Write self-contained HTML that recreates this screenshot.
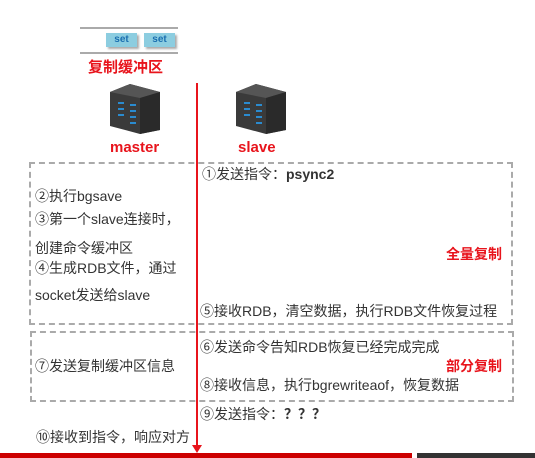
<!DOCTYPE html>
<html><head><meta charset="utf-8"><style>
body{margin:0;width:535px;height:458px;background:#fff;position:relative;overflow:hidden;font-family:"Liberation Sans","Noto Sans CJK SC",sans-serif;color:#333}
.t{position:absolute;font-size:14px;white-space:nowrap;line-height:16px}
.r{color:#e8141c;font-weight:bold}
.box{position:absolute;border:2px dashed #aaa}
.set{position:absolute;top:33px;width:31px;height:14px;background:#8ccde0;color:#1a6fb0;font-size:10px;font-weight:bold;text-align:center;line-height:14px;box-shadow:2px 2px 2px #aaa}
</style></head><body>
<div style="position:absolute;left:80px;top:27px;width:98px;height:2px;background:#aaa"></div>
<div style="position:absolute;left:80px;top:52px;width:98px;height:2px;background:#aaa"></div>
<div class="set" style="left:106px">set</div>
<div class="set" style="left:144px">set</div>
<div class="t r" style="left:88px;top:60px;font-size:15px">复制缓冲区</div>
<svg width="535" height="458" style="position:absolute;left:0;top:0">
<g id="srv">
<polygon points="110,92 130,84 160,92 160,130 140,134 110,126" fill="#3a3a3a"/>
<polygon points="110,92 130,84 160,92 140,98" fill="#555"/>
<polygon points="140,98 160,92 160,130 140,134" fill="#2a2a2a"/>
<g fill="#2a8bd0"><rect x="118" y="102" width="6" height="2"/><rect x="118" y="108" width="6" height="2"/><rect x="118" y="114" width="6" height="2"/><rect x="130" y="104" width="6" height="2"/><rect x="130" y="110" width="6" height="2"/><rect x="130" y="116" width="6" height="2"/><rect x="130" y="122" width="6" height="2"/></g>
</g>
<use href="#srv" x="126"/>
<line x1="197" y1="83" x2="197" y2="446" stroke="#e8141c" stroke-width="2"/>
<polygon points="192,445 202,445 197,453" fill="#e8141c"/>
</svg>
<div class="t r" style="left:110px;top:140px;font-size:15px">master</div>
<div class="t r" style="left:238px;top:140px;font-size:15px">slave</div>
<div class="box" style="left:29px;top:162px;width:480px;height:159px"></div>
<div class="box" style="left:30px;top:331px;width:480px;height:67px"></div>
<div class="t" style="left:202px;top:166px">①发送指令：<b>psync2</b></div>
<div class="t" style="left:35px;top:188px">②执行bgsave</div>
<div class="t" style="left:35px;top:211px">③第一个slave连接时，</div>
<div class="t" style="left:35px;top:240px">创建命令缓冲区</div>
<div class="t" style="left:35px;top:260px">④生成RDB文件，通过</div>
<div class="t" style="left:35px;top:287px">socket发送给slave</div>
<div class="t r" style="left:446px;top:246px">全量复制</div>
<div class="t" style="left:200px;top:303px">⑤接收RDB，清空数据，执行RDB文件恢复过程</div>
<div class="t" style="left:200px;top:339px">⑥发送命令告知RDB恢复已经完成完成</div>
<div class="t" style="left:35px;top:358px">⑦发送复制缓冲区信息</div>
<div class="t r" style="left:446px;top:358px">部分复制</div>
<div class="t" style="left:200px;top:377px">⑧接收信息，执行bgrewriteaof，恢复数据</div>
<div class="t" style="left:200px;top:406px">⑨发送指令：<b>？？？</b></div>
<div class="t" style="left:36px;top:429px">⑩接收到指令，响应对方</div>
<div style="position:absolute;left:0;top:453px;width:412px;height:5px;background:#c00"></div>
<div style="position:absolute;left:417px;top:453px;width:118px;height:5px;background:#333"></div>
</body></html>
